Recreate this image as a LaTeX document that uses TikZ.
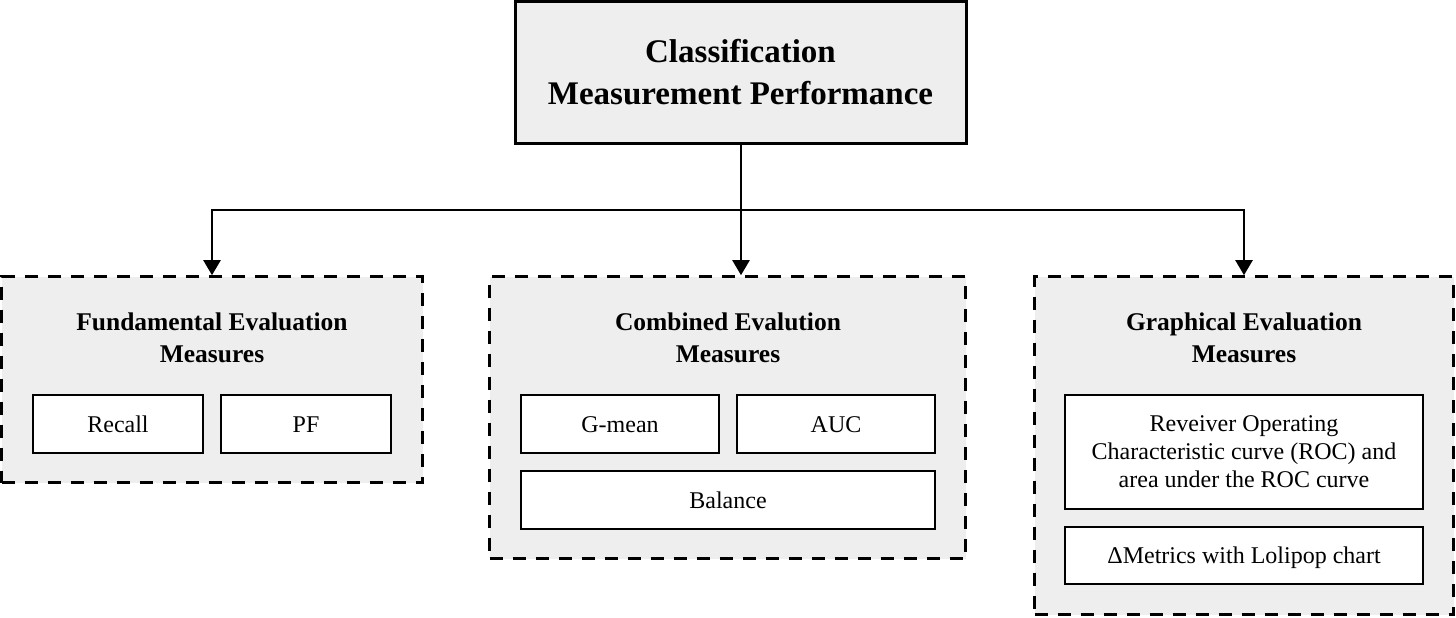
\documentclass[tikz,border=0pt]{standalone}
\usepackage{fontspec}
\setmainfont{Liberation Serif}
\usetikzlibrary{arrows.meta}
\definecolor{grayfill}{HTML}{EEEEEE}
\begin{document}
\begin{tikzpicture}[x=1pt,y=-1pt,
  topbox/.style={draw, line width=3pt, fill=grayfill, minimum width=451pt, minimum height=141pt, inner sep=0pt, font=\bfseries\fontsize{33}{42}\selectfont, align=center},
  grp/.style={draw, line width=2.6pt, dash pattern=on 13pt off 10pt, fill=grayfill, inner sep=0pt},
  grptitle/.style={font=\bfseries\fontsize{25.5}{32}\selectfont, align=center, inner sep=0pt},
  item/.style={draw, line width=2pt, fill=white, inner sep=0pt, font=\fontsize{24}{28}\selectfont, align=center},
  oneline/.style={text height=16pt, text depth=0pt},
  arr/.style={line width=2.3pt, -{Triangle[length=15pt,width=17pt]}},
  conn/.style={line width=2.3pt}
]
\useasboundingbox (0,0) rectangle (1456,618);
% top
\node[topbox] (top) at (740.5,72.5) {Classification\\Measurement Performance};
% groups
\node[grp, minimum width=421pt, minimum height=206pt] (g1) at (212,379.5) {};
\node[grp, minimum width=476pt, minimum height=282pt] (g2) at (727.5,417.5) {};
\node[grp, minimum width=419pt, minimum height=338pt] (g3) at (1244,445.5) {};
% titles
\node[grptitle] (t1) at (212,338) {Fundamental Evaluation\\Measures};
\node[grptitle] (t2) at (728,338) {Combined Evalution\\Measures};
\node[grptitle] (t3) at (1244,338) {Graphical Evaluation\\Measures};
% items
\node[item, oneline, minimum width=170pt, minimum height=58pt] (recall) at (118,424) {Recall};
\node[item, oneline, minimum width=170pt, minimum height=58pt] (pf) at (306,424) {PF};
\node[item, oneline, minimum width=198pt, minimum height=58pt] (gmean) at (620,424) {G-mean};
\node[item, oneline, minimum width=198pt, minimum height=58pt] (auc) at (836,424) {AUC};
\node[item, oneline, minimum width=414pt, minimum height=58pt] (bal) at (728,500) {Balance};
\node[item, minimum width=358pt, minimum height=114pt] (roc) at (1244,452) {Reveiver Operating\\Characteristic curve (ROC) and\\area under the ROC curve};
\node[item, oneline, minimum width=358pt, minimum height=57pt] (delta) at (1244,555.5) {ΔMetrics with Lolipop chart};
% connectors
\coordinate (j) at (741,210);
\draw[conn] (top.south -| j) -- (j);
\draw[arr] (j) -| (g1.north);
\draw[arr] (j) -| (g3.north);
\draw[arr] (j) -- (j |- g2.north);
\end{tikzpicture}
\end{document}
